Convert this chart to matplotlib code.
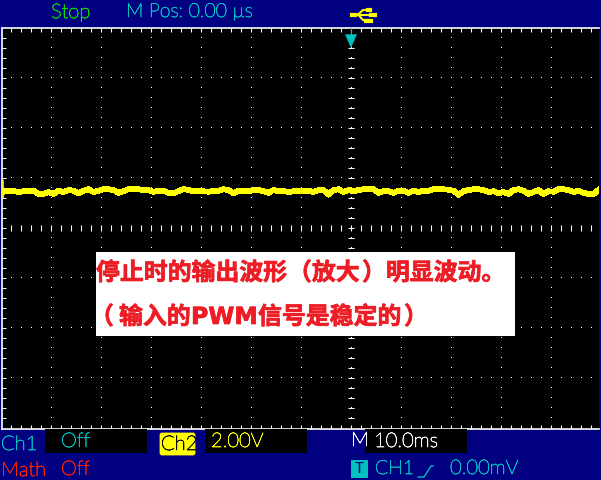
import matplotlib
matplotlib.use('Agg')
import matplotlib.pyplot as plt
import matplotlib.patheffects as pe
import numpy as np
from matplotlib.lines import Line2D
from matplotlib.patches import Rectangle, Polygon, FancyBboxPatch

W, H = 601, 480
NAVY = '#000080'
CYAN = '#00c0c0'
YELLOW = '#ffff00'
GREEN = '#00e000'
RED = '#ff2000'
NOTE_RED = '#ee1c25'

trace_v = [
    1.45, 1.49, 1.49, 1.43, 1.47, 1.48, 1.49, 1.37, 1.36, 1.44,
    1.36, 1.49, 1.44, 1.52, 1.49, 1.39, 1.49, 1.55, 1.44, 1.49,
    1.55, 1.55, 1.52, 1.41, 1.47, 1.55, 1.55, 1.55, 1.52, 1.52,
    1.45, 1.49, 1.49, 1.41, 1.39, 1.47, 1.56, 1.52, 1.47, 1.49,
    1.47, 1.45, 1.48, 1.49, 1.55, 1.52, 1.39, 1.49, 1.48, 1.47,
    1.52, 1.52, 1.47, 1.41, 1.52, 1.47, 1.48, 1.44, 1.47, 1.47,
    1.49, 1.49, 1.44, 1.52, 1.52, 1.35, 1.52, 1.55, 1.44, 1.52,
    1.47, 1.52, 1.55, 1.55, 1.55, 1.41, 1.47, 1.47, 1.41, 1.49,
    1.49, 1.41, 1.49, 1.44, 1.49, 1.49, 1.55, 1.55, 1.55, 1.53,
    1.49, 1.33, 1.47, 1.52, 1.55, 1.55, 1.52, 1.44, 1.47, 1.39,
    1.44, 1.36, 1.52, 1.55, 1.49, 1.36, 1.44, 1.52, 1.36, 1.47,
    1.45, 1.55, 1.55, 1.52, 1.44, 1.49, 1.41, 1.36, 1.36, 1.52,
]
trace_t = np.arange(len(trace_v)) - 69.5

x_minor = np.arange(-68, 50, 2)
y_minor = np.arange(-7.6, 8.0, 0.4)
x_div = np.arange(-60, 41, 10)
y_div = np.arange(-6, 7, 2)

UI_FONT = 'Lato'


def fx(px):
    return px / W


def fy(py):
    return 1 - py / H


def label(px, py, s, color, size=14.5, **kw):
    t = fig.text(fx(px), fy(py), s, color=color, fontsize=size, family=UI_FONT, fontweight='light',
                 va='center', ha='left', **kw)
    t.set_path_effects([pe.withStroke(linewidth=0.45, foreground=color)])


def box(x0, y0, x1, y1, color):
    fig.patches.append(Rectangle((fx(x0), fy(y1)), fx(x1 - x0), (y1 - y0) / H,
                                 transform=fig.transFigure, facecolor=color, edgecolor='none'))


def poly(xs, ys, color, lw=1.0):
    fig.add_artist(Line2D([fx(x) for x in xs], [fy(y) for y in ys], color=color, lw=lw,
                          transform=fig.transFigure))


def note(px, py, s, family=('Noto Sans CJK SC', 'DejaVu Sans'), size=17.2):
    t = fig.text(fx(px), fy(py), s, color=NOTE_RED, fontsize=size, family=list(family),
                 fontweight='bold', ha='left', va='center')
    t.set_path_effects([pe.withStroke(linewidth=0.5, foreground=NOTE_RED)])


fig = plt.figure(figsize=(W / 100, H / 100), dpi=100, facecolor=NAVY)

# scope window, 5 px per ms and 25 px per volt
ax = fig.add_axes([fx(1.5), fy(428.5), fx(597), 400.5 / H], facecolor='black')
ax.set_xlim(-69.9, 49.5)
ax.set_ylim(-8.02, 8.0)

for s in ['top', 'bottom', 'left']:
    ax.spines[s].set_color('white')
    ax.spines[s].set_linewidth(1.2)
ax.spines['right'].set_visible(False)

ax.set_xticks(x_minor)
ax.set_yticks(y_minor)
ax.tick_params(axis='both', direction='in', length=3.2, width=0.8, color='white',
               labelbottom=False, labelleft=False, top=True)

# dotted graticule
xx, yy = np.meshgrid(x_minor, y_div)
ax.plot(xx.ravel(), yy.ravel(), ',', color='white')
xx, yy = np.meshgrid(x_div, y_minor)
ax.plot(xx.ravel(), yy.ravel(), ',', color='white')

# centre cross has longer dashes
ax.plot(np.zeros_like(y_minor), y_minor, '_', color='white', ms=4.5, mew=0.8)
ax.plot(x_minor, np.zeros_like(x_minor), '|', color='white', ms=4.5, mew=0.8)

ax.plot(trace_t, trace_v, color=YELLOW, lw=3.4, solid_joinstyle='miter', antialiased=False, zorder=3)

# markers: trigger position and channel level
ax.add_patch(Polygon([(-1.2, 7.75), (1.2, 7.75), (0, 7.2)], closed=True, facecolor=CYAN, zorder=4))
ax.plot([0, 0], [8, 7.5], color=CYAN, lw=0.8, zorder=4)
ax.plot([-69.6, -69.6], [1.25, 1.9], color=YELLOW, lw=1.2, zorder=4)

# top status line
label(51, 13, 'Stop', GREEN)
label(126, 12, 'M Pos: 0.00 µs', CYAN, size=14)

# usb symbol, no installed font has one
poly([355, 373], [14.5, 14.5], YELLOW, lw=1.5)
poly([358, 363, 370], [14.5, 10, 10], YELLOW, lw=1.5)
poly([358, 363, 370], [14.5, 20, 20], YELLOW, lw=1.5)
poly([351.5, 355], [14.5, 14.5], YELLOW, lw=3)
poly([368, 370], [10, 10], YELLOW, lw=3)
poly([366, 371], [20.5, 20.5], YELLOW, lw=3)
poly([371, 375], [14.5, 14.5], YELLOW, lw=3)

# bottom status boxes
box(45, 429, 147, 453, 'black')
box(205, 429, 307, 453, 'black')
box(365, 429, 467, 453, 'black')
fig.patches.append(FancyBboxPatch((fx(162), fy(453)), fx(31), 18 / H, boxstyle='round,pad=0.004',
                                  transform=fig.transFigure, facecolor=YELLOW, edgecolor='none',
                                  mutation_aspect=W / H))
box(351, 460, 368, 478, CYAN)

label(1, 445, 'Ch1', CYAN)
label(61, 442, 'Off', CYAN)
label(161, 445, 'Ch2', 'black')
label(211, 442, '2.00V', YELLOW)
label(351, 441, 'M', 'white')
label(374, 442, '10.0ms', 'white')
label(1, 471, 'Math', RED)
label(61, 470, 'Off', RED)
fig.text(fx(359.5), fy(469), 'T', color=NAVY, fontsize=11, family=UI_FONT,
         ha='center', va='center')
label(375, 469, 'CH1', CYAN, size=14)
poly([418, 424, 431, 433], [477, 477, 466, 466], CYAN)
label(450, 469, '0.00mV', CYAN)

# annotation
box(96, 252, 515, 336, 'white')
note(96, 273, '停止时的输出波形')
note(288, 273, '（放大')
note(362, 273, '）明显波动。')
note(90, 317, '（')
note(119, 317, '输入的')
note(191, 317, 'PWM', family=('DejaVu Sans',), size=17)
note(258, 317, '信号是稳定的')
note(404, 317, '）')

fig.savefig('out.png', dpi=100, facecolor=NAVY)
